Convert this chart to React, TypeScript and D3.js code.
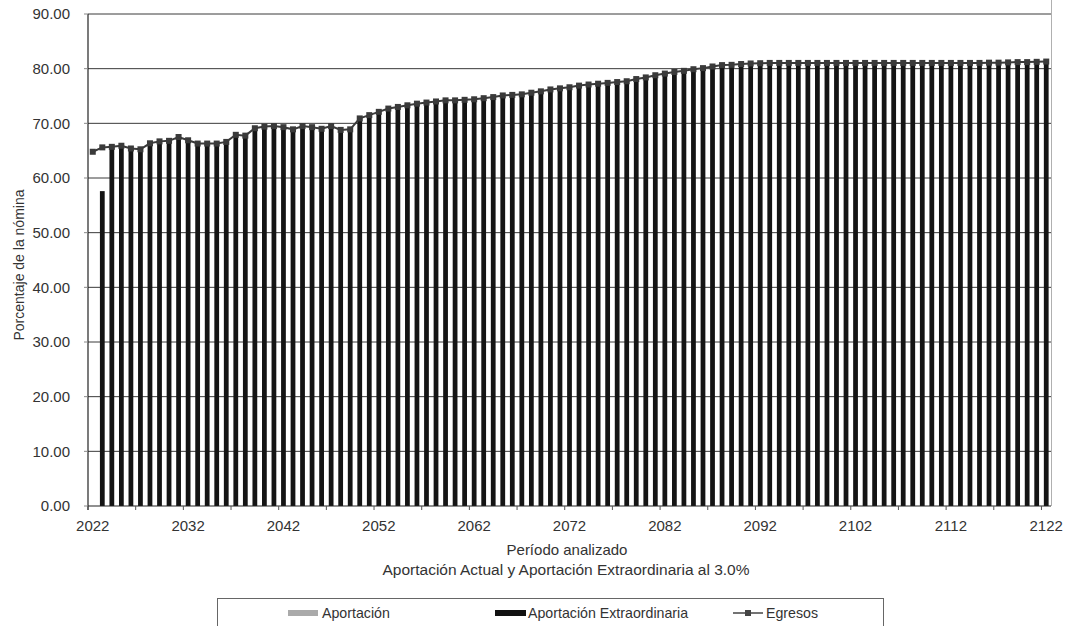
import React from "react";
import * as d3 from "d3";

const years: number[] = d3.range(2022, 2123);

const egresos: number[] = [
  64.8, 65.6, 65.7, 65.9, 65.4, 65.25, 66.35, 66.7, 66.8, 67.5,
  66.9, 66.3, 66.3, 66.3, 66.6, 67.9, 67.75, 69.1, 69.4, 69.5,
  69.3, 68.9, 69.5, 69.3, 69.0, 69.5, 68.8, 68.9, 70.9, 71.5,
  72.1, 72.7, 73.0, 73.3, 73.6, 73.8, 74.0, 74.2, 74.2, 74.3,
  74.4, 74.6, 74.8, 75.1, 75.2, 75.3, 75.6, 75.85, 76.2, 76.4,
  76.6, 76.9, 77.1, 77.25, 77.4, 77.55, 77.7, 78.1, 78.4, 78.8,
  79.1, 79.4, 79.6, 79.9, 80.1, 80.4, 80.65, 80.7, 80.85, 80.95,
  81.0, 81.05, 81.05, 81.05, 81.05, 81.05, 81.05, 81.05, 81.05, 81.05,
  81.05, 81.05, 81.05, 81.05, 81.05, 81.05, 81.05, 81.05, 81.05, 81.05,
  81.05, 81.05, 81.05, 81.05, 81.1, 81.1, 81.15, 81.2, 81.2, 81.25,
  81.3,
];

const aportacionExtraordinaria: number[] = [
  0, 57.6, 65.7, 65.9, 65.4, 65.25, 66.35, 66.7, 66.8, 67.5,
  66.9, 66.3, 66.3, 66.3, 66.6, 67.9, 67.75, 69.1, 69.4, 69.5,
  69.3, 68.9, 69.5, 69.3, 69.0, 69.5, 68.8, 68.9, 70.9, 71.5,
  72.1, 72.7, 73.0, 73.3, 73.6, 73.8, 74.0, 74.2, 74.2, 74.3,
  74.4, 74.6, 74.8, 75.1, 75.2, 75.3, 75.6, 75.85, 76.2, 76.4,
  76.6, 76.9, 77.1, 77.25, 77.4, 77.55, 77.7, 78.1, 78.4, 78.8,
  79.1, 79.4, 79.6, 79.9, 80.1, 80.4, 80.65, 80.7, 80.85, 80.95,
  81.0, 81.05, 81.05, 81.05, 81.05, 81.05, 81.05, 81.05, 81.05, 81.05,
  81.05, 81.05, 81.05, 81.05, 81.05, 81.05, 81.05, 81.05, 81.05, 81.05,
  81.05, 81.05, 81.05, 81.05, 81.1, 81.1, 81.15, 81.2, 81.2, 81.25,
  81.3,
];

const yTicks: number[] = [0, 10, 20, 30, 40, 50, 60, 70, 80, 90];
const xLabelYears: number[] = [2022, 2032, 2042, 2052, 2062, 2072, 2082, 2092, 2102, 2112, 2122];
const xTickYears: number[] = d3.range(2022, 2123, 5);

const FONT = "'Liberation Sans', Arial, Helvetica, sans-serif";

export default function App() {
  const W = 1070, H = 626;
  const left = 88, right = 1051, top = 14, bottom = 506;

  const x = d3.scaleBand<number>().domain(years).range([left, right]).padding(0);
  const y = d3.scaleLinear().domain([0, 90]).range([bottom, top]);
  const bw = x.bandwidth();
  const barW = bw * 0.5;
  const cx = (yr: number) => (x(yr) as number) + bw / 2;

  const line = d3
    .line<number>()
    .x((_, i) => cx(years[i]))
    .y((d) => y(d));

  return (
    <svg width={W} height={H} style={{ position: "absolute", left: 0, top: 0, background: "#fff" }}>
      <rect x={0} y={0} width={W} height={H} fill="#fff" />
      {yTicks.filter((t) => t > 0).map((t) => (
        <line key={"g" + t} x1={left} x2={right} y1={y(t)} y2={y(t)} stroke="#3a3a3a" strokeWidth={1} />
      ))}
      <line x1={right + 0.5} x2={right + 0.5} y1={0} y2={bottom} stroke="#b0b0b0" strokeWidth={1} />
      {years.map((yr, i) =>
        aportacionExtraordinaria[i] > 0 ? (
          <rect
            key={"b" + yr}
            x={cx(yr) - barW / 2}
            y={y(aportacionExtraordinaria[i])}
            width={barW}
            height={y(0) - y(aportacionExtraordinaria[i])}
            fill="#141414"
          />
        ) : null
      )}
      <path d={line(egresos) || ""} fill="none" stroke="#3a3a3a" strokeWidth={2} />
      {egresos.map((v, i) => (
        <rect key={"m" + i} x={cx(years[i]) - 3} y={y(v) - 3} width={6} height={6} fill="#3a3a3a" />
      ))}
      <line x1={left} x2={left} y1={top} y2={bottom + 4} stroke="#222" strokeWidth={1.2} />
      <line x1={left} x2={right} y1={bottom} y2={bottom} stroke="#222" strokeWidth={1.2} />
      {yTicks.map((t) => (
        <g key={"yt" + t}>
          <line x1={left - 4} x2={left} y1={y(t)} y2={y(t)} stroke="#888" />
          <text x={70} y={y(t)} dy="0.35em" textAnchor="end" fontFamily={FONT} fontSize={15} fill="#333">
            {t.toFixed(2)}
          </text>
        </g>
      ))}
      {xTickYears.map((yr) => (
        <line key={"xt" + yr} x1={x(yr) as number} x2={x(yr) as number} y1={bottom} y2={bottom + 4} stroke="#555" />
      ))}
      {xLabelYears.map((yr) => (
        <text key={"xl" + yr} x={cx(yr)} y={526} dy="0.35em" textAnchor="middle" fontFamily={FONT} fontSize={15} fill="#333">
          {yr}
        </text>
      ))}
      <text
        transform={`translate(19,265) rotate(-90)`}
        textAnchor="middle"
        dy="0.35em"
        fontFamily={FONT}
        fontSize={14}
        fill="#333"
      >
        Porcentaje de la nómina
      </text>
      <text x={567} y={550} dy="0.35em" textAnchor="middle" fontFamily={FONT} fontSize={15} fill="#333">
        Período analizado
      </text>
      <text x={566} y={570} dy="0.35em" textAnchor="middle" fontFamily={FONT} fontSize={15.5} fill="#333">
        Aportación Actual y Aportación Extraordinaria al 3.0%
      </text>
      <rect x={217.5} y={598.5} width={666} height={40} fill="#fff" stroke="#666" strokeWidth={1} />
      <rect x={288} y={610} width={30} height={6} fill="#aaa" />
      <text x={322} y={613} dy="0.35em" fontFamily={FONT} fontSize={14.2} fill="#333">Aportación</text>
      <rect x={495} y={610} width={31} height={6} fill="#111" />
      <text x={528} y={613} dy="0.35em" fontFamily={FONT} fontSize={14.2} fill="#333">Aportación Extraordinaria</text>
      <line x1={733} x2={763} y1={613} y2={613} stroke="#444" strokeWidth={1.5} />
      <rect x={745} y={610} width={6} height={6} fill="#444" />
      <text x={766} y={613} dy="0.35em" fontFamily={FONT} fontSize={14.2} fill="#333">Egresos</text>
    </svg>
  );
}
